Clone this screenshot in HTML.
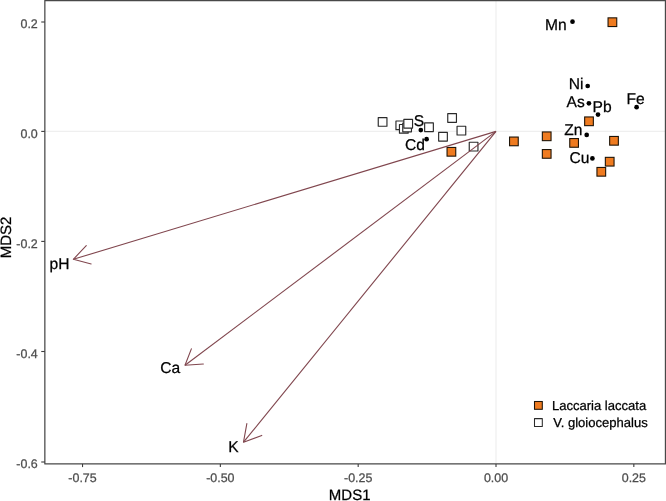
<!DOCTYPE html><html><head><meta charset="utf-8"><style>html,body{margin:0;padding:0;background:#fff;width:666px;height:501px;overflow:hidden}svg{display:block;will-change:transform}text{font-family:"Liberation Sans",sans-serif;text-rendering:geometricPrecision}</style></head><body>
<svg width="666" height="501" viewBox="0 0 666 501">
<rect x="0" y="0" width="666" height="501" fill="#fff"/>
<line x1="496.00" y1="0.5" x2="496.00" y2="463.9" stroke="#efefef" stroke-width="1.2"/>
<line x1="44.85" y1="131.40" x2="665.45" y2="131.40" stroke="#efefef" stroke-width="1.2"/>
<rect x="378.25" y="117.55" width="8.7" height="8.7" fill="#fff" stroke="#2a2a2a" stroke-width="1.15" stroke-linejoin="round"/>
<rect x="395.95" y="120.95" width="8.7" height="8.7" fill="#fff" stroke="#2a2a2a" stroke-width="1.15" stroke-linejoin="round"/>
<rect x="399.45" y="124.45" width="8.7" height="8.7" fill="#fff" stroke="#2a2a2a" stroke-width="1.15" stroke-linejoin="round"/>
<rect x="402.75" y="123.15" width="8.7" height="8.7" fill="#fff" stroke="#2a2a2a" stroke-width="1.15" stroke-linejoin="round"/>
<rect x="403.85" y="119.35" width="8.7" height="8.7" fill="#fff" stroke="#2a2a2a" stroke-width="1.15" stroke-linejoin="round"/>
<rect x="424.65" y="122.85" width="8.7" height="8.7" fill="#fff" stroke="#2a2a2a" stroke-width="1.15" stroke-linejoin="round"/>
<rect x="447.75" y="113.65" width="8.7" height="8.7" fill="#fff" stroke="#2a2a2a" stroke-width="1.15" stroke-linejoin="round"/>
<rect x="457.05" y="126.25" width="8.7" height="8.7" fill="#fff" stroke="#2a2a2a" stroke-width="1.15" stroke-linejoin="round"/>
<rect x="438.65" y="132.35" width="8.7" height="8.7" fill="#fff" stroke="#2a2a2a" stroke-width="1.15" stroke-linejoin="round"/>
<rect x="469.25" y="142.25" width="8.7" height="8.7" fill="#fff" stroke="#2a2a2a" stroke-width="1.15" stroke-linejoin="round"/>
<rect x="608.05" y="17.85" width="8.7" height="8.7" fill="#ef7b20" stroke="#1e1408" stroke-width="1.1"/>
<rect x="584.65" y="116.95" width="8.7" height="8.7" fill="#ef7b20" stroke="#1e1408" stroke-width="1.1"/>
<rect x="569.75" y="138.55" width="8.7" height="8.7" fill="#ef7b20" stroke="#1e1408" stroke-width="1.1"/>
<rect x="609.65" y="136.45" width="8.7" height="8.7" fill="#ef7b20" stroke="#1e1408" stroke-width="1.1"/>
<rect x="605.35" y="157.35" width="8.7" height="8.7" fill="#ef7b20" stroke="#1e1408" stroke-width="1.1"/>
<rect x="596.95" y="167.45" width="8.7" height="8.7" fill="#ef7b20" stroke="#1e1408" stroke-width="1.1"/>
<rect x="509.55" y="137.05" width="8.7" height="8.7" fill="#ef7b20" stroke="#1e1408" stroke-width="1.1"/>
<rect x="542.35" y="131.95" width="8.7" height="8.7" fill="#ef7b20" stroke="#1e1408" stroke-width="1.1"/>
<rect x="542.35" y="149.55" width="8.7" height="8.7" fill="#ef7b20" stroke="#1e1408" stroke-width="1.1"/>
<rect x="447.05" y="147.45" width="8.7" height="8.7" fill="#ef7b20" stroke="#1e1408" stroke-width="1.1"/>
<circle cx="572.5" cy="21.7" r="2.35" fill="#000"/>
<circle cx="587.7" cy="86.0" r="2.35" fill="#000"/>
<circle cx="588.9" cy="103.3" r="2.35" fill="#000"/>
<circle cx="598" cy="114.6" r="2.35" fill="#000"/>
<circle cx="636.6" cy="107.2" r="2.35" fill="#000"/>
<circle cx="586.7" cy="134.9" r="2.35" fill="#000"/>
<circle cx="592.4" cy="158.4" r="2.35" fill="#000"/>
<circle cx="420.8" cy="130.1" r="2.35" fill="#000"/>
<circle cx="426.6" cy="139.2" r="2.35" fill="#000"/>
<line x1="496.0" y1="131.4" x2="73.35" y2="259.3" stroke="#80464e" stroke-width="1.1"/>
<polyline points="86.26,245.56 73.35,259.3 91.16,263.91" fill="none" stroke="#80464e" stroke-width="1.1" stroke-linejoin="round" stroke-linecap="round"/>
<line x1="496.0" y1="131.4" x2="185.0" y2="365.3" stroke="#80464e" stroke-width="1.1"/>
<polyline points="191.37,348.83 185.0,365.3 203.35,364.02" fill="none" stroke="#80464e" stroke-width="1.1" stroke-linejoin="round" stroke-linecap="round"/>
<line x1="496.0" y1="131.4" x2="243.5" y2="442.2" stroke="#80464e" stroke-width="1.1"/>
<polyline points="246.84,423.54 243.5,442.2 261.77,435.42" fill="none" stroke="#80464e" stroke-width="1.1" stroke-linejoin="round" stroke-linecap="round"/>
<text x="544.9" y="29.5" font-size="15.6" fill="#000" stroke="#000" stroke-width="0.25">Mn</text>
<text x="568.7" y="88.9" font-size="15.6" fill="#000" stroke="#000" stroke-width="0.25">Ni</text>
<text x="566.5" y="106.7" font-size="15.6" fill="#000" stroke="#000" stroke-width="0.25">As</text>
<text x="592.6" y="112.1" font-size="15.6" fill="#000" stroke="#000" stroke-width="0.25">Pb</text>
<text x="626.6" y="103.6" font-size="15.6" fill="#000" stroke="#000" stroke-width="0.25">Fe</text>
<text x="564.2" y="134.5" font-size="15.6" fill="#000" stroke="#000" stroke-width="0.25">Zn</text>
<text x="569.5" y="162.7" font-size="15.6" fill="#000" stroke="#000" stroke-width="0.25">Cu</text>
<text x="413.7" y="125.9" font-size="15.6" fill="#000" stroke="#000" stroke-width="0.25">S</text>
<text x="404.9" y="150.1" font-size="15.6" fill="#000" stroke="#000" stroke-width="0.25">Cd</text>
<text x="49.5" y="268.9" font-size="15.6" fill="#000" stroke="#000" stroke-width="0.25">pH</text>
<text x="160.2" y="372.9" font-size="15.6" fill="#000" stroke="#000" stroke-width="0.25">Ca</text>
<text x="228.2" y="451.6" font-size="15.6" fill="#000" stroke="#000" stroke-width="0.25">K</text>
<rect x="44.85" y="0.5" width="620.60" height="463.40" fill="none" stroke="#484848" stroke-width="1.25" stroke-linejoin="round"/>
<line x1="41.25" y1="22.00" x2="44.85" y2="22.00" stroke="#3c3c3c" stroke-width="1.1"/>
<text x="37.8" y="28.30" font-size="12.45" fill="#4d4d4d" stroke="#4d4d4d" stroke-width="0.25" text-anchor="end">0.2</text>
<line x1="41.25" y1="131.40" x2="44.85" y2="131.40" stroke="#3c3c3c" stroke-width="1.1"/>
<text x="37.8" y="137.70" font-size="12.45" fill="#4d4d4d" stroke="#4d4d4d" stroke-width="0.25" text-anchor="end">0.0</text>
<line x1="41.25" y1="241.40" x2="44.85" y2="241.40" stroke="#3c3c3c" stroke-width="1.1"/>
<text x="37.8" y="247.70" font-size="12.45" fill="#4d4d4d" stroke="#4d4d4d" stroke-width="0.25" text-anchor="end">-0.2</text>
<line x1="41.25" y1="351.50" x2="44.85" y2="351.50" stroke="#3c3c3c" stroke-width="1.1"/>
<text x="37.8" y="357.80" font-size="12.45" fill="#4d4d4d" stroke="#4d4d4d" stroke-width="0.25" text-anchor="end">-0.4</text>
<line x1="41.25" y1="462.00" x2="44.85" y2="462.00" stroke="#3c3c3c" stroke-width="1.1"/>
<text x="37.8" y="468.30" font-size="12.45" fill="#4d4d4d" stroke="#4d4d4d" stroke-width="0.25" text-anchor="end">-0.6</text>
<line x1="82.53" y1="463.9" x2="82.53" y2="467.10" stroke="#3c3c3c" stroke-width="1.1"/>
<text x="82.53" y="482.2" font-size="12.45" fill="#4d4d4d" stroke="#4d4d4d" stroke-width="0.25" text-anchor="middle">-0.75</text>
<line x1="220.35" y1="463.9" x2="220.35" y2="467.10" stroke="#3c3c3c" stroke-width="1.1"/>
<text x="220.35" y="482.2" font-size="12.45" fill="#4d4d4d" stroke="#4d4d4d" stroke-width="0.25" text-anchor="middle">-0.50</text>
<line x1="358.18" y1="463.9" x2="358.18" y2="467.10" stroke="#3c3c3c" stroke-width="1.1"/>
<text x="358.18" y="482.2" font-size="12.45" fill="#4d4d4d" stroke="#4d4d4d" stroke-width="0.25" text-anchor="middle">-0.25</text>
<line x1="496.00" y1="463.9" x2="496.00" y2="467.10" stroke="#3c3c3c" stroke-width="1.1"/>
<text x="496.00" y="482.2" font-size="12.45" fill="#4d4d4d" stroke="#4d4d4d" stroke-width="0.25" text-anchor="middle">0.00</text>
<line x1="633.83" y1="463.9" x2="633.83" y2="467.10" stroke="#3c3c3c" stroke-width="1.1"/>
<text x="633.83" y="482.2" font-size="12.45" fill="#4d4d4d" stroke="#4d4d4d" stroke-width="0.25" text-anchor="middle">0.25</text>
<text x="349.7" y="500.1" font-size="15" fill="#000" stroke="#000" stroke-width="0.25" text-anchor="middle">MDS1</text>
<text transform="translate(10.8,237.5) rotate(-90)" x="0" y="0" font-size="15" fill="#000" stroke="#000" stroke-width="0.25" text-anchor="middle">MDS2</text>
<rect x="534.50" y="401.50" width="7.8" height="7.8" fill="#ef7b20" stroke="#1e1408" stroke-width="1.05"/>
<rect x="534.50" y="418.60" width="7.8" height="7.8" fill="#fff" stroke="#2a2a2a" stroke-width="1.05" stroke-linejoin="round"/>
<text x="551.93" y="409.8" font-size="13.05" fill="#000" stroke="#000" stroke-width="0.25">Laccaria laccata</text>
<text x="553.15" y="427.0" font-size="13.05" fill="#000" stroke="#000" stroke-width="0.25">V. gloiocephalus</text>
</svg></body></html>
